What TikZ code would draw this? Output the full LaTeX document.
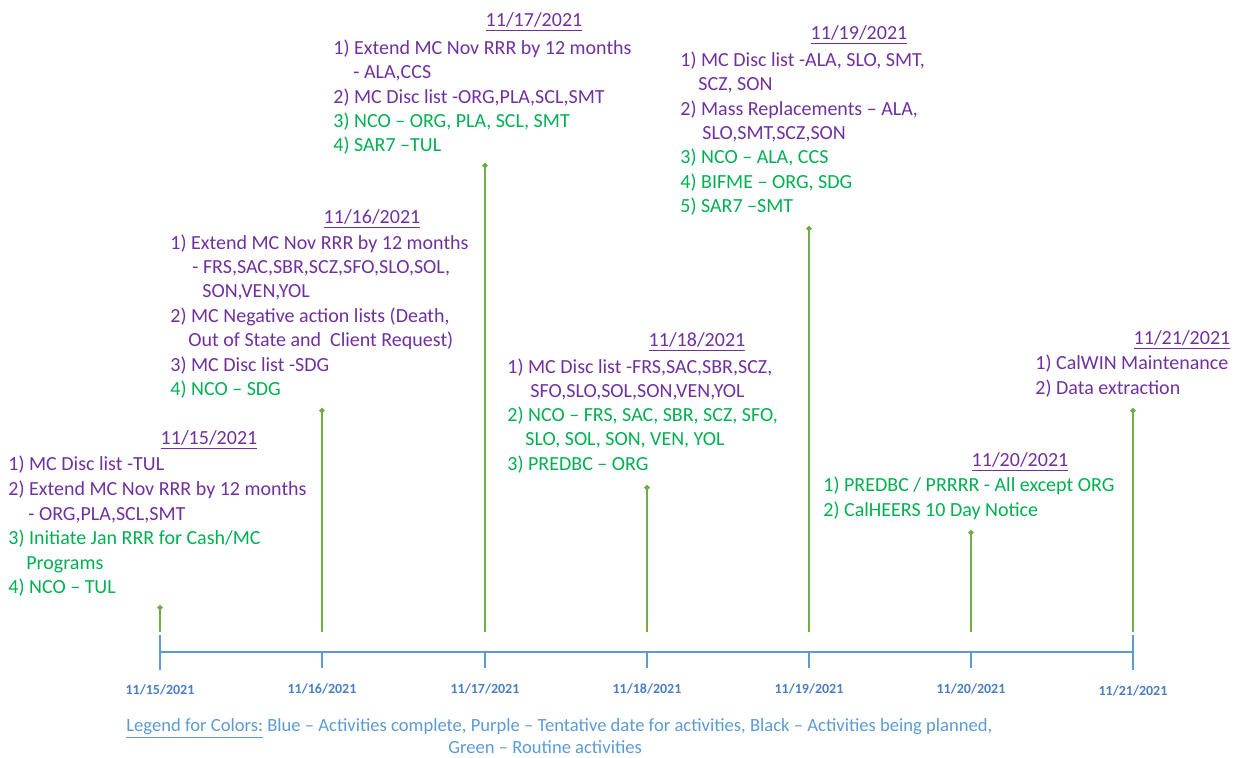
\documentclass[tikz,border=0pt]{standalone}
\usepackage{fontspec}
\setmainfont{Carlito}
\usetikzlibrary{arrows.meta}
\definecolor{tpurple}{HTML}{7030A0}
\definecolor{tgreen}{HTML}{00B050}
\definecolor{stemgreen}{HTML}{70AD47}
\definecolor{axisblue}{HTML}{5B9BD5}
\definecolor{ticklbl}{HTML}{4A7EC4}
\tikzset{
  item/.style={anchor=base west, inner sep=0pt, font=\fontsize{10}{12}\selectfont},
  pitem/.style={item, text=tpurple},
  gitem/.style={item, text=tgreen},
  datelbl/.style={anchor=base, inner sep=0pt, text=tpurple, font=\fontsize{10}{12}\selectfont},
  ticklabel/.style={anchor=base, inner sep=0pt, text=ticklbl, font=\fontsize{7}{8}\selectfont\bfseries},
  legendtxt/.style={anchor=base west, inner sep=0pt, text=axisblue, font=\fontsize{9.3}{11}\selectfont},
  stemline/.style={draw=stemgreen, line width=1pt, -{Circle[length=2.6pt,width=2.6pt]}},
  axisline/.style={draw=axisblue, line width=1pt},
}
\begin{document}
\begin{tikzpicture}[x=0.5pt,y=-0.5pt]
\useasboundingbox (0,0) rectangle (1241,758);
% axis
\coordinate (ax0) at (160,652);
\coordinate (ax6) at (1133,652);
\draw[axisline] (ax0) -- (ax6);
\draw[axisline] (160,635) -- (160,670);
\draw[axisline] (1133,635) -- (1133,670);
\foreach \x in {322,485,647,809,971}{\draw[axisline] (\x,652) -- (\x,668);}
% tick labels
\node[ticklabel] (l1) at (160,694.5) {11/15/2021};
\node[ticklabel] (l2) at (322,693.5) {11/16/2021};
\node[ticklabel] (l3) at (485,693.5) {11/17/2021};
\node[ticklabel] (l4) at (647,693.5) {11/18/2021};
\node[ticklabel] (l5) at (809,693.5) {11/19/2021};
\node[ticklabel] (l6) at (971,693.5) {11/20/2021};
\node[ticklabel] (l7) at (1133,695) {11/21/2021};
% stems
\coordinate (b1) at (160,632); \coordinate (t1) at (160,605);
\coordinate (b2) at (322,632); \coordinate (t2) at (322,408);
\coordinate (b3) at (485,632); \coordinate (t3) at (485,163);
\coordinate (b4) at (647,632); \coordinate (t4) at (647,485);
\coordinate (b5) at (809,632); \coordinate (t5) at (809,226);
\coordinate (b6) at (971,632); \coordinate (t6) at (971,530);
\coordinate (b7) at (1133,632); \coordinate (t7) at (1133,408);
\foreach \i in {1,...,7}{\draw[stemline] (b\i) -- (t\i);}
% 11/15
\node[datelbl] (d1) at (209,444.5) {\underline{11/15/2021}};
\node[pitem] (a1) at (8,471) {1) MC Disc list -TUL};
\node[pitem] (a2) at (8,495.5) {2) Extend MC Nov RRR by 12 months};
\node[pitem] (a3) at (28,520) {- ORG,PLA,SCL,SMT};
\node[gitem] (a4) at (8,544.5) {3) Initiate Jan RRR for Cash/MC};
\node[gitem] (a5) at (26,569) {Programs};
\node[gitem] (a6) at (8,593.5) {4) NCO – TUL};
% 11/16
\node[datelbl] (d2) at (372,223.5) {\underline{11/16/2021}};
\node[pitem] (b1n) at (170,249.5) {1) Extend MC Nov RRR by 12 months};
\node[pitem] (b2n) at (192,273.5) {- FRS,SAC,SBR,SCZ,SFO,SLO,SOL,};
\node[pitem] (b3n) at (202,298) {SON,VEN,YOL};
\node[pitem] (b4n) at (170,322.5) {2) MC Negative action lists (Death,};
\node[pitem] (b5n) at (188,347) {Out of State and\ \ Client Request)};
\node[pitem] (b6n) at (170,371.5) {3) MC Disc list -SDG};
\node[gitem] (b7n) at (170,396) {4) NCO – SDG};
% 11/17
\node[datelbl] (d3) at (534,26.5) {\underline{11/17/2021}};
\node[pitem] (c1) at (333,54.5) {1) Extend MC Nov RRR by 12 months};
\node[pitem] (c2) at (353,78.5) {- ALA,CCS};
\node[pitem] (c3) at (333,103.5) {2) MC Disc list -ORG,PLA,SCL,SMT};
\node[gitem] (c4) at (333,127.5) {3) NCO – ORG, PLA, SCL, SMT};
\node[gitem] (c5) at (333,151.5) {4) SAR7 –TUL};
% 11/18
\node[datelbl] (d4) at (697,346.5) {\underline{11/18/2021}};
\node[pitem] (e1) at (507,373.5) {1) MC Disc list -FRS,SAC,SBR,SCZ,};
\node[pitem] (e2) at (530,397.5) {SFO,SLO,SOL,SON,VEN,YOL};
\node[gitem] (e3) at (507,421.5) {2) NCO – FRS, SAC, SBR, SCZ, SFO,};
\node[gitem] (e4) at (525,445.5) {SLO, SOL, SON, VEN, YOL};
\node[gitem] (e5) at (507,470.5) {3) PREDBC – ORG};
% 11/19
\node[datelbl] (d5) at (859,39.5) {\underline{11/19/2021}};
\node[pitem] (f1) at (680,66.5) {1) MC Disc list -ALA, SLO, SMT,};
\node[pitem] (f2) at (698,91) {SCZ, SON};
\node[pitem] (f3) at (680,115.3) {2) Mass Replacements – ALA,};
\node[pitem] (f4) at (702,139.7) {SLO,SMT,SCZ,SON};
\node[gitem] (f5) at (680,164) {3) NCO – ALA, CCS};
\node[gitem] (f6) at (680,188.5) {4) BIFME – ORG, SDG};
\node[gitem] (f7) at (680,212.8) {5) SAR7 –SMT};
% 11/20
\node[datelbl] (d6) at (1020,466.5) {\underline{11/20/2021}};
\node[gitem] (g1) at (823,491.5) {1) PREDBC / PRRRR - All except ORG};
\node[gitem] (g2) at (823,516.5) {2) CalHEERS 10 Day Notice};
% 11/21
\node[datelbl] (d7) at (1182,344.5) {\underline{11/21/2021}};
\node[pitem] (h1) at (1035,369.5) {1) CalWIN Maintenance};
\node[pitem] (h2) at (1035,394.5) {2) Data extraction};
% legend
\node[legendtxt] (leg1) at (126,731) {\underline{Legend for Colors:} Blue – Activities complete, Purple – Tentative date for activities, Black – Activities being planned,};
\node[legendtxt] (leg2) at (448,753) {Green – Routine activities};
\end{tikzpicture}
\end{document}
